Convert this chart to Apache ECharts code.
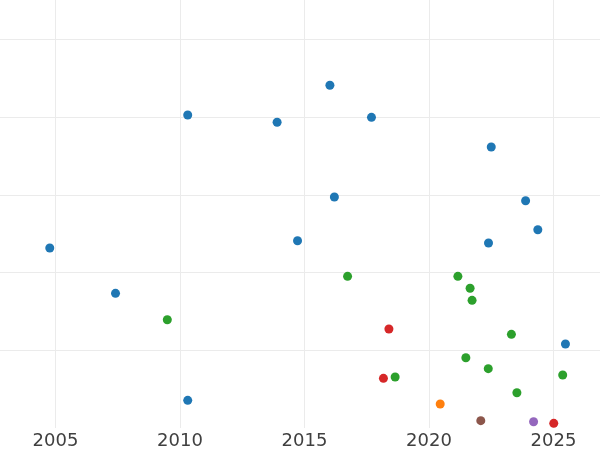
<!DOCTYPE html>
<html>
<head>
<meta charset="utf-8">
<script src="https://cdn.jsdelivr.net/npm/echarts@6/dist/echarts.min.js"></script>
<style>
html,body{margin:0;padding:0;background:#fff;overflow:hidden;width:600px;height:450px;position:relative}
#c{position:absolute;left:-69px;top:0;width:747px;height:450px}
</style>
</head>
<body>
<div id="c"></div>
<script>
const xTicks = [2000, 2005, 2010, 2015, 2020, 2025, 2030];

const blueX = [2016.02, 2010.31, 2013.90, 2017.69, 2022.50, 2016.20, 2023.88, 2024.37, 2004.77, 2014.72, 2022.39, 2007.41, 2025.48, 2010.31];
const blueY = [4.408, 4.026, 3.932, 3.996, 3.614, 2.971, 2.923, 2.550, 2.315, 2.409, 2.379, 1.732, 1.080, 0.356];

const greenX = [2009.49, 2016.73, 2021.16, 2021.65, 2021.73, 2023.31, 2021.48, 2022.38, 2018.64, 2025.37, 2023.53];
const greenY = [1.393, 1.951, 1.951, 1.797, 1.642, 1.205, 0.904, 0.763, 0.656, 0.682, 0.454];

const redX = [2018.39, 2018.17, 2025.01];
const redY = [1.273, 0.639, 0.060];

const orangeX = [2020.45];
const orangeY = [0.309];

const brownX = [2022.08];
const brownY = [0.094];

const purpleX = [2024.20];
const purpleY = [0.081];

function pts(xs, ys) { return xs.map((x, i) => [x, ys[i]]); }

const groups = [
  {x: blueX, y: blueY, color: '#1f77b4'},
  {x: greenX, y: greenY, color: '#2ca02c'},
  {x: redX, y: redY, color: '#d62728'},
  {x: orangeX, y: orangeY, color: '#ff7f0e'},
  {x: brownX, y: brownY, color: '#8c564b'},
  {x: purpleX, y: purpleY, color: '#9467bd'}
];

const chart = echarts.init(document.getElementById('c'), null, {renderer: 'canvas'});
chart.setOption({
  animation: false,
  backgroundColor: '#ffffff',
  grid: {left: 0, right: 0, top: 0, bottom: 22, containLabel: false},
  xAxis: {
    type: 'value',
    min: xTicks[0],
    max: xTicks[xTicks.length - 1],
    interval: 5,
    axisLine: {show: false},
    axisTick: {show: false},
    splitLine: {show: true, showMinLine: false, showMaxLine: false, lineStyle: {color: '#ebebeb', width: 1}},
    axisLabel: {
      show: true, margin: 4, color: '#404040', fontSize: 18,
      fontFamily: 'DejaVu Sans',
      showMinLabel: false, showMaxLabel: false,
      formatter: v => String(v)
    }
  },
  yAxis: {
    type: 'value',
    min: 0,
    max: 5.505,
    interval: 1,
    axisLine: {show: false},
    axisTick: {show: false},
    axisLabel: {show: false},
    splitLine: {show: true, showMinLine: false, showMaxLine: false, lineStyle: {color: '#ebebeb', width: 1}}
  },
  series: groups.map(g => ({
    type: 'scatter',
    data: pts(g.x, g.y),
    symbol: 'circle',
    symbolSize: 9,
    itemStyle: {color: g.color, opacity: 1},
    silent: true
  }))
});
</script>
</body>
</html>
